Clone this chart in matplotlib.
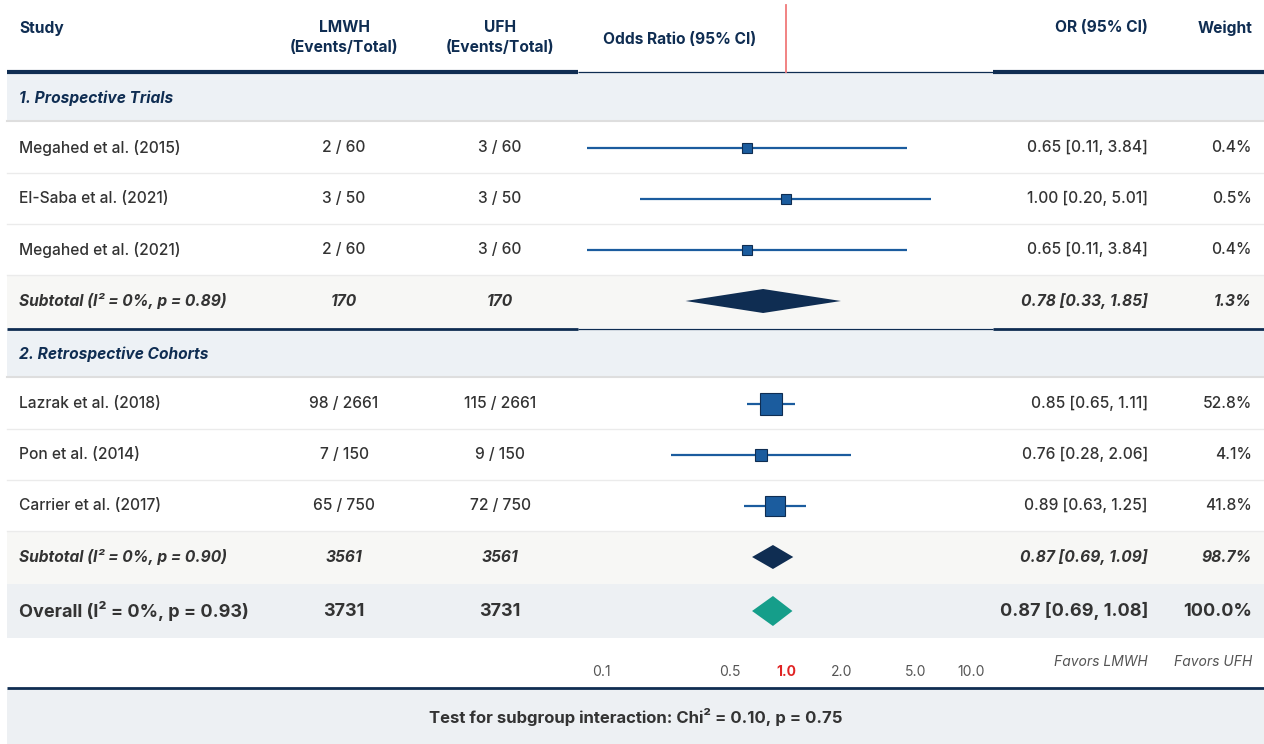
import numpy as np
import matplotlib.pyplot as plt
from matplotlib.patches import Rectangle, Polygon

plt.rcParams['font.family'] = ['Inter', 'DejaVu Sans']

# data
groups = ["1. Prospective Trials", "2. Retrospective Cohorts"]
studies = ["Megahed et al. (2015)", "El-Saba et al. (2021)", "Megahed et al. (2021)",
           "Lazrak et al. (2018)", "Pon et al. (2014)", "Carrier et al. (2017)"]
study_group = [0, 0, 0, 1, 1, 1]
lmwh_events = [2, 3, 2, 98, 7, 65]
lmwh_total = [60, 50, 60, 2661, 150, 750]
ufh_events = [3, 3, 3, 115, 9, 72]
ufh_total = [60, 50, 60, 2661, 150, 750]
or_est = [0.65, 1.00, 0.65, 0.85, 0.76, 0.89]
or_lo = [0.11, 0.20, 0.11, 0.65, 0.28, 0.63]
or_hi = [3.84, 5.01, 3.84, 1.11, 2.06, 1.25]
weights = [0.4, 0.5, 0.4, 52.8, 4.1, 41.8]

sub_labels = ["Subtotal (I² = 0%, p = 0.89)", "Subtotal (I² = 0%, p = 0.90)"]
sub_lmwh = [170, 3561]
sub_ufh = [170, 3561]
sub_est = [0.78, 0.87]
sub_lo = [0.33, 0.69]
sub_hi = [1.85, 1.09]
sub_weight = [1.3, 98.7]

overall_label = "Overall (I² = 0%, p = 0.93)"
overall_n = [3731, 3731]
overall_or = [0.87, 0.69, 1.08]
overall_weight = 100.0

ticks = [0.1, 0.5, 1.0, 2.0, 5.0, 10.0]
footer = "Test for subgroup interaction: Chi² = 0.10, p = 0.75"

navy = '#0f2d52'
txt = '#333333'
blue = '#1b5c9e'
W, H = 1264, 744
X0 = 7
PL, PR = 578, 993
hfs = 11.2   # header font size
bfs = 11.2   # body font size

fig = plt.figure(figsize=(W / 100, H / 100), dpi=100)
ax = fig.add_axes([0, 0, 1, 1])
ax.set_xlim(0, W)
ax.set_ylim(H, 0)
ax.axis('off')

fa = fig.add_axes([PL / W, 0, (PR - PL) / W, 1])
fa.set_xscale('log')
fa.set_xlim(0.1, 10)
fa.set_ylim(H, 0)
fa.axis('off')
fa.patch.set_alpha(0)

# header
hkw = dict(color=navy, fontsize=hfs, fontweight='bold', va='center')
ax.text(19, 28, "Study", **hkw)
ax.text(344, 28, "LMWH", ha='center', **hkw)
ax.text(344, 47, "(Events/Total)", ha='center', **hkw)
ax.text(500, 28, "UFH", ha='center', **hkw)
ax.text(500, 47, "(Events/Total)", ha='center', **hkw)
ax.text(680, 40, "Odds Ratio (95% CI)", ha='center', **hkw)
ax.text(1148, 28, "OR (95% CI)", ha='right', **hkw)
ax.text(1252, 28, "Weight", ha='right', **hkw)
fa.plot([1, 1], [5, 72], color='#f07a7a', lw=1.3)


def thick_line(y, lw):
    ax.plot([X0, PL], [y, y], color=navy, lw=lw, solid_capstyle='butt')
    ax.plot([PR, W], [y, y], color=navy, lw=lw, solid_capstyle='butt')
    ax.plot([PL, PR], [y + 0.5, y + 0.5], color=navy, lw=0.9, solid_capstyle='butt')


def cols(y, name, a, b, orstr, wstr, **kw):
    ax.text(19, y, name, va='center', **kw)
    ax.text(344, y, a, va='center', ha='center', **kw)
    ax.text(500, y, b, va='center', ha='center', **kw)
    ax.text(1148, y, orstr, va='center', ha='right', **kw)
    ax.text(1252, y, wstr, va='center', ha='right', **kw)


y = 73
for g in range(len(groups)):
    # section row
    ax.add_patch(Rectangle((X0, y), W - X0, 48, color='#edf1f5', lw=0))
    ax.plot([X0, W], [y + 48, y + 48], color='#dedede', lw=1.5)
    ax.text(19, y + 25, groups[g], color=navy, fontsize=hfs, fontweight='bold',
            fontstyle='italic', va='center')
    y += 49
    for i in range(len(studies)):
        if study_group[i] != g:
            continue
        yc = y + 25.5
        cols(yc, studies[i], f"{lmwh_events[i]} / {lmwh_total[i]}",
             f"{ufh_events[i]} / {ufh_total[i]}",
             f"{or_est[i]:.2f} [{or_lo[i]:.2f}, {or_hi[i]:.2f}]", f"{weights[i]:.1f}%",
             color=txt, fontsize=bfs, fontweight='medium')
        fa.plot([or_lo[i], or_hi[i]], [yc, yc], color=blue, lw=1.6, solid_capstyle='butt')
        size = (8 + 1.9 * np.sqrt(weights[i])) * 0.72
        fa.plot(or_est[i], yc, marker='s', ms=size, mfc=blue, mec=navy, mew=0.8)
        y += 51
        ax.plot([X0, W], [y, y], color='#ebebeb', lw=1)
    # subtotal row
    ax.add_patch(Rectangle((X0, y), W - X0, 53, color='#f7f7f5', lw=0))
    yc = y + 26
    cols(yc, sub_labels[g], str(sub_lmwh[g]), str(sub_ufh[g]),
         f"{sub_est[g]:.2f} [{sub_lo[g]:.2f}, {sub_hi[g]:.2f}]", f"{sub_weight[g]:.1f}%",
         color=txt, fontsize=bfs, fontweight='bold', fontstyle='italic')
    px = np.array([sub_lo[g], sub_est[g], sub_hi[g], sub_est[g]])
    fa.add_patch(Polygon(np.column_stack([px, [yc, yc - 12, yc, yc + 12]]), closed=True,
                         facecolor=navy, edgecolor='none'))
    y += 53
    if g == 0:
        thick_line(y + 0.5, 2)
        y += 1

# overall row
ax.add_patch(Rectangle((X0, y), W - X0, 54, color='#edf0f3', lw=0))
yc = y + 27
cols(yc, overall_label, str(overall_n[0]), str(overall_n[1]),
     f"{overall_or[0]:.2f} [{overall_or[1]:.2f}, {overall_or[2]:.2f}]", f"{overall_weight:.1f}%",
     color=txt, fontsize=13, fontweight='bold')
px = np.array([overall_or[1], overall_or[0], overall_or[2], overall_or[0]])
fa.add_patch(Polygon(np.column_stack([px, [yc, yc - 15, yc, yc + 15]]), closed=True,
                     facecolor='#159e8a', edgecolor='none'))

# axis row
ta = fig.add_axes([601 / W, 0, (971 - 601) / W, 1])
ta.set_xscale('log')
ta.set_xlim(0.1, 10)
ta.set_ylim(H, 0)
ta.axis('off')
ta.patch.set_alpha(0)
for t in ticks:
    if t == 1.0:
        ta.text(t, 672, f"{t:.1f}", ha='center', va='center', fontsize=10,
                color='#e02424', fontweight='bold')
    else:
        ta.text(t, 672, f"{t:g}" if t < 1 else f"{t:.1f}", ha='center', va='center',
                fontsize=10, color='#555555')
ax.text(1148, 662, "Favors LMWH", ha='right', va='center', fontsize=10,
        fontstyle='italic', color='#555555')
ax.text(1252, 662, "Favors UFH", ha='right', va='center', fontsize=10,
        fontstyle='italic', color='#555555')

# header line drawn last so it sits on top
thick_line(71.5, 3)

# footer
ax.add_patch(Rectangle((X0, 689), W - X0, H - 689, color='#edf0f3', lw=0))
ax.plot([X0, W], [688, 688], color=navy, lw=2, solid_capstyle='butt')
ax.text(636, 717, footer, ha='center', va='center', fontsize=12, fontweight='bold', color=txt)

fig.savefig("out.png", dpi=100)
